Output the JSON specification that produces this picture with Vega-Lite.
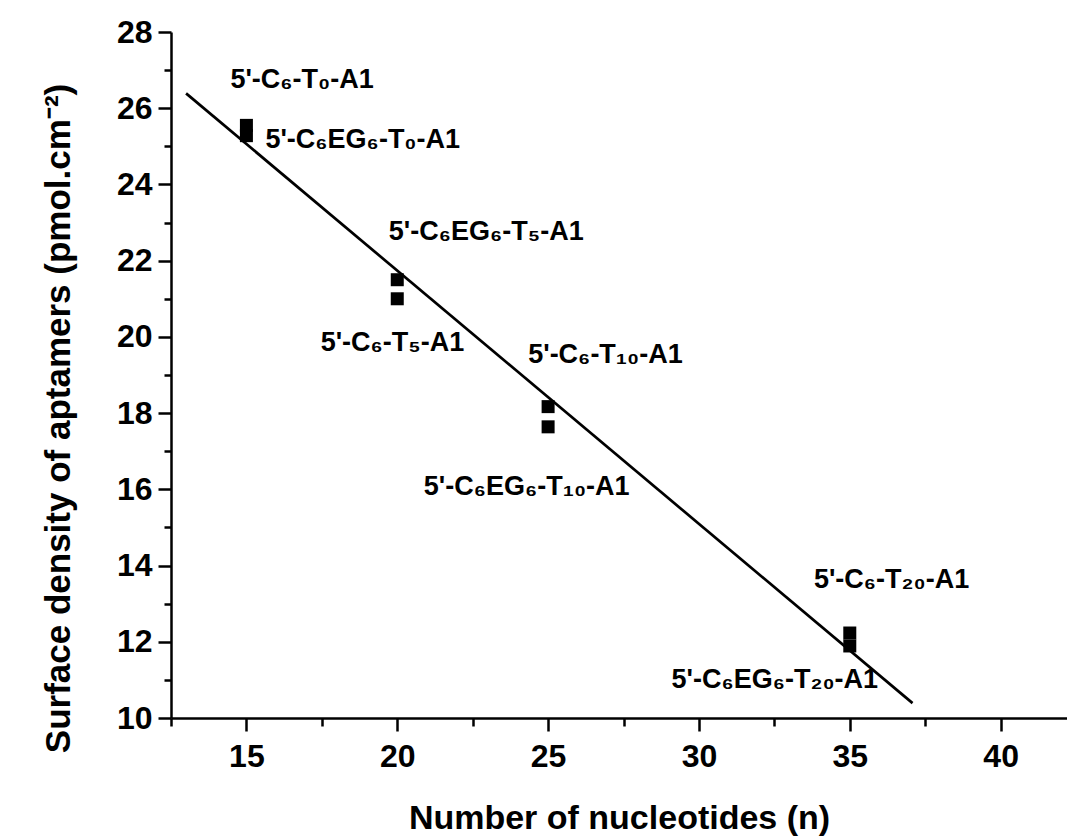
{
  "$schema": "https://vega.github.io/schema/vega-lite/v6.json",
  "width": 896,
  "height": 686,
  "autosize": {"type": "none"},
  "padding": {"left": 171, "top": 32, "right": 0, "bottom": 122},
  "background": "white",
  "config": {"view": {"stroke": null}, "font": "Liberation Sans"},
  "datasets": {
    "points": [
      {"n": 15, "density": 25.55},
      {"n": 15, "density": 25.28},
      {"n": 20, "density": 21.5},
      {"n": 20, "density": 21.0},
      {"n": 25, "density": 18.17},
      {"n": 25, "density": 17.64},
      {"n": 35, "density": 12.23},
      {"n": 35, "density": 11.89}
    ],
    "fit": [
      {"n": 13.0, "density": 26.39},
      {"n": 37.08, "density": 10.39}
    ],
    "labels": [
      {"n": 14.47, "density": 26.75, "label": "5'-C₆-T₀-A1"},
      {"n": 15.63, "density": 25.17, "label": "5'-C₆EG₆-T₀-A1"},
      {"n": 19.72, "density": 22.76, "label": "5'-C₆EG₆-T₅-A1"},
      {"n": 17.46, "density": 19.85, "label": "5'-C₆-T₅-A1"},
      {"n": 24.34, "density": 19.53, "label": "5'-C₆-T₁₀-A1"},
      {"n": 20.88, "density": 16.07, "label": "5'-C₆EG₆-T₁₀-A1"},
      {"n": 33.81, "density": 13.63, "label": "5'-C₆-T₂₀-A1"},
      {"n": 29.09, "density": 11.0, "label": "5'-C₆EG₆-T₂₀-A1"}
    ]
  },
  "encoding": {
    "x": {
      "field": "n",
      "type": "quantitative",
      "scale": {"domain": [12.5, 42.2], "nice": false, "zero": false},
      "axis": {
        "title": "Number of nucleotides (n)",
        "values": [12.5, 15, 17.5, 20, 22.5, 25, 27.5, 30, 32.5, 35, 37.5, 40],
        "labelExpr": "datum.value % 5 === 0 ? datum.label : ''",
        "tickSize": {"condition": {"test": "datum.value % 5 === 0", "value": 13}, "value": 8},
        "tickWidth": 2.5,
        "tickColor": "black",
        "domainWidth": 2.5,
        "domainColor": "black",
        "grid": false,
        "labelFont": "Liberation Sans",
        "labelFontSize": 32,
        "labelFontWeight": "bold",
        "labelColor": "black",
        "labelPadding": 10,
        "labelFlush": false,
        "labelOverlap": false,
        "titleFont": "Liberation Sans",
        "titleFontSize": 34,
        "titleFontWeight": "bold",
        "titleColor": "black",
        "titlePadding": 29
      }
    },
    "y": {
      "field": "density",
      "type": "quantitative",
      "scale": {"domain": [10, 28], "nice": false, "zero": false},
      "axis": {
        "title": "Surface density of aptamers (pmol.cm⁻²)",
        "values": [10, 11, 12, 13, 14, 15, 16, 17, 18, 19, 20, 21, 22, 23, 24, 25, 26, 27, 28],
        "labelExpr": "datum.value % 2 === 0 ? datum.label : ''",
        "tickSize": {"condition": {"test": "datum.value % 2 === 0", "value": 13}, "value": 7},
        "tickWidth": 2.5,
        "tickColor": "black",
        "domainWidth": 2.5,
        "domainColor": "black",
        "grid": false,
        "labelFont": "Liberation Sans",
        "labelFontSize": 32,
        "labelFontWeight": "bold",
        "labelColor": "black",
        "labelPadding": 6,
        "labelFlush": false,
        "labelOverlap": false,
        "titleFont": "Liberation Sans",
        "titleFontSize": 35,
        "titleFontWeight": "bold",
        "titleColor": "black",
        "titlePadding": 40,
        "titleY": 386
      }
    }
  },
  "layer": [
    {
      "data": {"name": "fit"},
      "mark": {"type": "line", "color": "black", "strokeWidth": 2.7}
    },
    {
      "data": {"name": "points"},
      "mark": {"type": "square", "color": "black", "size": 169, "opacity": 1}
    },
    {
      "data": {"name": "labels"},
      "mark": {"type": "text", "align": "left", "baseline": "middle", "fontSize": 27, "fontWeight": "bold", "font": "Liberation Sans", "color": "black"},
      "encoding": {"text": {"field": "label", "type": "nominal"}}
    }
  ]
}
